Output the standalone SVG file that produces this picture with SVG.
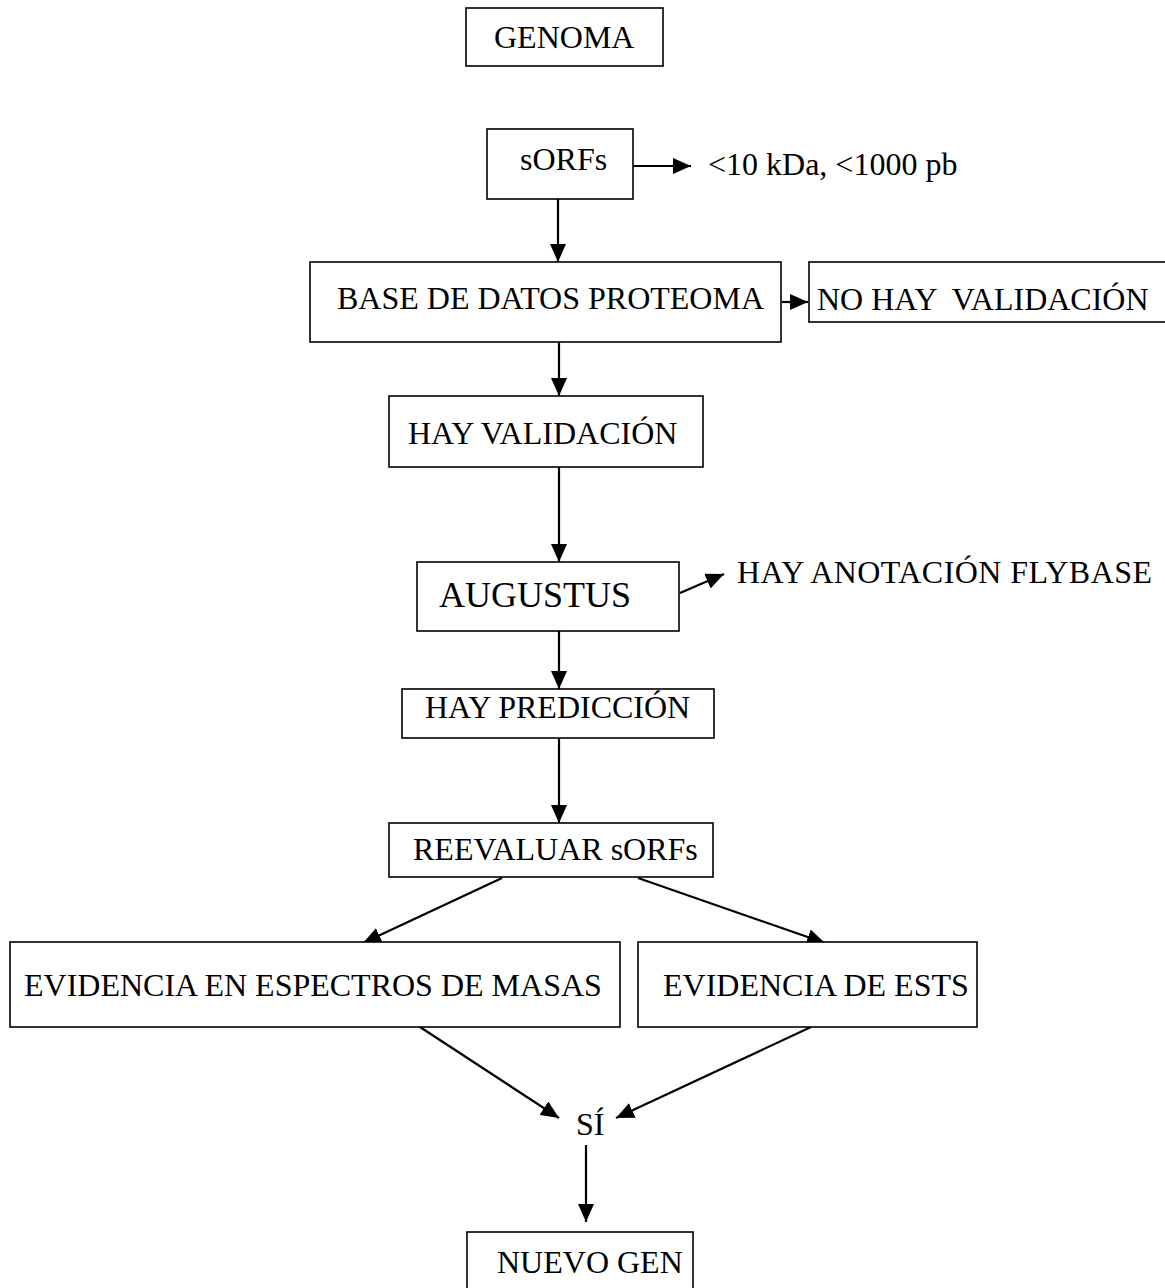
<svg xmlns="http://www.w3.org/2000/svg" width="1165" height="1288" viewBox="0 0 1165 1288">
<style>
.box{fill:#fff;stroke:#000;stroke-width:1.6}
.t{font-family:"Liberation Serif","Times New Roman",serif;font-size:32px;fill:#000}
.c{stroke:#000;stroke-width:2.2;fill:none}
</style>
<defs>
<marker id="ah" markerUnits="userSpaceOnUse" markerWidth="18" markerHeight="16" viewBox="0 0 18 16" refX="18" refY="8" orient="auto">
<path d="M0,0 L18,8 L0,16 Z" fill="#000"/>
</marker>
</defs>
<rect width="1165" height="1288" fill="#fff"/>
<g id="connectors">
<line class="c" x1="633" y1="166" x2="691" y2="166" marker-end="url(#ah)"/>
<line class="c" x1="558" y1="199" x2="558" y2="262" marker-end="url(#ah)"/>
<line class="c" x1="782" y1="302" x2="808" y2="302" marker-end="url(#ah)"/>
<line class="c" x1="559" y1="342" x2="559" y2="396" marker-end="url(#ah)"/>
<line class="c" x1="559" y1="467" x2="559" y2="562" marker-end="url(#ah)"/>
<line class="c" x1="680" y1="593" x2="724" y2="574" marker-end="url(#ah)"/>
<line class="c" x1="559" y1="631" x2="559" y2="689" marker-end="url(#ah)"/>
<line class="c" x1="559" y1="738" x2="559" y2="823" marker-end="url(#ah)"/>
<line class="c" x1="502" y1="878" x2="363" y2="943" marker-end="url(#ah)"/>
<line class="c" x1="638" y1="878" x2="825" y2="943" marker-end="url(#ah)"/>
<line class="c" x1="420" y1="1027" x2="559" y2="1118" marker-end="url(#ah)"/>
<line class="c" x1="811" y1="1027" x2="616" y2="1118" marker-end="url(#ah)"/>
<line class="c" x1="586" y1="1145" x2="586" y2="1222" marker-end="url(#ah)"/>
</g>
<g id="genoma"><rect class="box" x="466" y="8" width="197" height="58"/><text class="t" x="494" y="48">GENOMA</text></g>
<g id="sorfs"><rect class="box" x="487" y="129" width="146" height="70"/><text class="t" x="520" y="170">sORFs</text></g>
<g id="criterio"><text class="t" x="708" y="175">&lt;10 kDa, &lt;1000 pb</text></g>
<g id="base"><rect class="box" x="310" y="262" width="471" height="80"/><text class="t" x="337" y="309">BASE DE DATOS PROTEOMA</text></g>
<g id="novalid"><rect class="box" x="809" y="262" width="360" height="60"/><text class="t" x="817" y="310" xml:space="preserve">NO HAY  VALIDACIÓN</text></g>
<g id="valid"><rect class="box" x="389" y="396" width="314" height="71"/><text class="t" x="408" y="444">HAY VALIDACIÓN</text></g>
<g id="augustus"><rect class="box" x="417" y="562" width="262" height="69"/><text class="t" x="439" y="607" style="font-size:36px">AUGUSTUS</text></g>
<g id="flybase"><text class="t" x="737" y="583" textLength="415">HAY ANOTACIÓN FLYBASE</text></g>
<g id="prediccion"><rect class="box" x="402" y="689" width="312" height="49"/><text class="t" x="425" y="718">HAY PREDICCIÓN</text></g>
<g id="reevaluar"><rect class="box" x="389" y="823" width="324" height="54"/><text class="t" x="413" y="860">REEVALUAR sORFs</text></g>
<g id="masas"><rect class="box" x="10" y="942" width="610" height="85"/><text class="t" x="24" y="996">EVIDENCIA EN ESPECTROS DE MASAS</text></g>
<g id="ests"><rect class="box" x="638" y="942" width="339" height="85"/><text class="t" x="663" y="996">EVIDENCIA DE ESTS</text></g>
<g id="si"><text class="t" x="576" y="1135">SÍ</text></g>
<g id="nuevogen"><rect class="box" x="467" y="1232" width="226" height="70"/><text class="t" x="497" y="1273">NUEVO GEN</text></g>
</svg>
